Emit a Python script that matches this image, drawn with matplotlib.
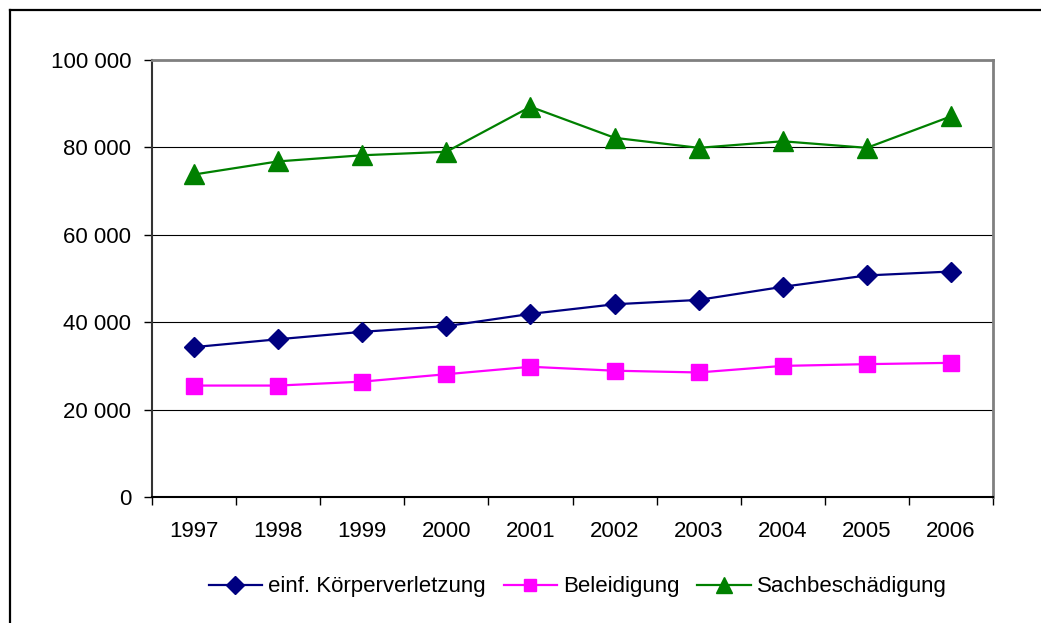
import matplotlib
matplotlib.use("Agg")
import matplotlib.pyplot as plt
from matplotlib.ticker import FuncFormatter, FixedLocator
from matplotlib.lines import Line2D

years = ["1997", "1998", "1999", "2000", "2001", "2002", "2003", "2004", "2005", "2006"]
koerperverletzung = [34300, 36100, 37800, 39100, 41900, 44100, 45100, 48100, 50700, 51600]
beleidigung = [25500, 25500, 26400, 28100, 29800, 28900, 28500, 30000, 30400, 30700]
sachbeschaedigung = [73800, 76800, 78200, 79000, 89300, 82200, 79900, 81400, 79900, 87100]
series_names = ["einf. Körperverletzung", "Beleidigung", "Sachbeschädigung"]
y_ticks = [0, 20000, 40000, 60000, 80000, 100000]

plt.rcParams['font.family'] = ['Liberation Sans', 'DejaVu Sans']
FS = 16

fig = plt.figure(figsize=(10.41, 6.23), dpi=100)
ax = fig.add_axes([152/1041, 1-497/623, (993-152)/1041, (497-60)/623])

x = list(range(len(years)))
ax.plot(x, koerperverletzung, color="#000080", lw=1.6, marker="D", ms=10.5,
        mec="#000080", mfc="#000080", label=series_names[0], zorder=3)
ax.plot(x, beleidigung, color="#FF00FF", lw=1.6, marker="s", ms=11,
        mec="#FF00FF", mfc="#FF00FF", label=series_names[1], zorder=3)
ax.plot(x, sachbeschaedigung, color="#008000", lw=1.6, marker="^", ms=14,
        mec="#008000", mfc="#008000", label=series_names[2], zorder=3)

ax.set_xlim(-0.5, len(years) - 0.5)
ax.set_ylim(0, 100000)

ax.yaxis.set_major_locator(FixedLocator(y_ticks))
ax.yaxis.set_major_formatter(FuncFormatter(lambda v, p: f"{int(v):,}".replace(",", " ")))
ax.grid(axis="y", color="black", lw=0.8, zorder=1)
ax.set_axisbelow(True)

ax.set_xticks(x)
ax.set_xticklabels(years)
ax.set_xticks([i - 0.5 for i in range(len(years) + 1)], minor=True)
ax.tick_params(axis="x", which="major", length=0, pad=17, labelsize=FS)
ax.tick_params(axis="x", which="minor", length=6, width=1, direction="out", color="black")
ax.tick_params(axis="y", which="major", length=6, width=1, direction="out", pad=9, labelsize=FS)

for s in ["top", "right"]:
    ax.spines[s].set_color("#808080")
    ax.spines[s].set_linewidth(2)
ax.spines["left"].set_color("#333333")
ax.spines["left"].set_linewidth(1.5)
ax.spines["bottom"].set_color("black")
ax.spines["bottom"].set_linewidth(1.5)

fig.legend(loc="center", bbox_to_anchor=(0.555, 0.058), ncol=3, frameon=False,
           fontsize=FS, handlelength=2.4, handletextpad=0.28, columnspacing=0.8,
           markerscale=0.85)

# outer chart border (top and left visible)
fig.add_artist(Line2D([10/1041, 10/1041], [0, 1-10/623], transform=fig.transFigure,
                      color="black", lw=1.6))
fig.add_artist(Line2D([10/1041, 1], [1-10/623, 1-10/623], transform=fig.transFigure,
                      color="black", lw=1.6))

fig.savefig("out.png", dpi=100)
